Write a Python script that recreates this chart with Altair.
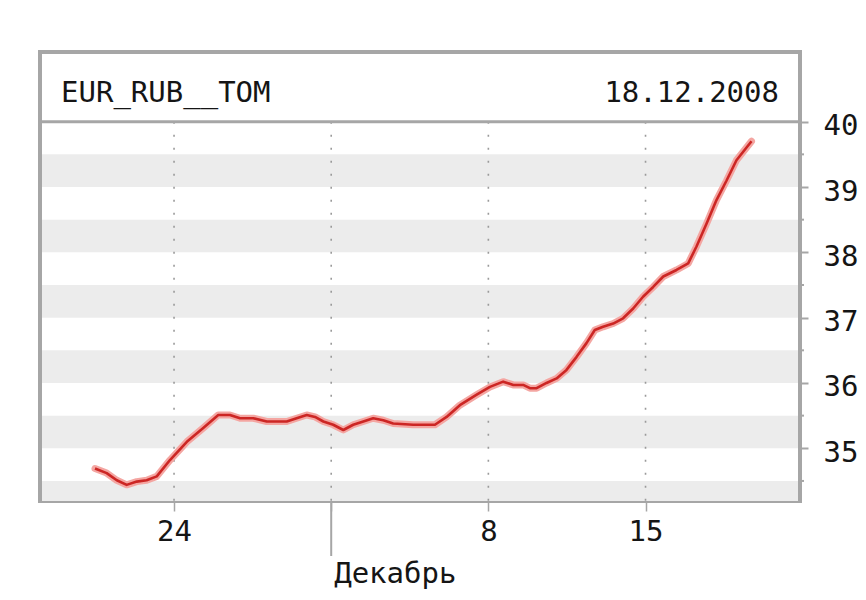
import altair as alt
import pandas as pd

# ---- data (x = day number: November days as-is, December days = 30 + day) ----
days = [20.48, 21.00, 21.45, 21.89, 22.34, 22.78, 23.23, 23.82, 24.57, 25.30,
        25.97, 26.49, 26.94, 27.53, 28.13, 29.02, 29.46, 29.91, 30.28, 30.65,
        31.09, 31.54, 31.98, 32.43, 32.87, 33.32, 33.76, 34.65, 35.62, 36.14,
        36.73, 37.48, 38.07, 38.66, 39.11, 39.55, 39.85, 40.15, 40.59, 41.04,
        41.48, 41.93, 42.37, 42.74, 43.11, 43.56, 44.00, 44.45, 44.89, 45.34,
        45.79, 46.38, 46.90, 47.27, 47.72, 48.16, 48.61, 49.05, 49.72]
rate = [34.69, 34.62, 34.51, 34.44, 34.49, 34.51, 34.57, 34.82, 35.10, 35.31,
        35.51, 35.51, 35.46, 35.46, 35.41, 35.41, 35.46, 35.51, 35.48, 35.41,
        35.36, 35.28, 35.36, 35.41, 35.46, 35.43, 35.38, 35.36, 35.36, 35.48,
        35.66, 35.82, 35.94, 36.02, 35.97, 35.97, 35.92, 35.92, 36.00, 36.07,
        36.20, 36.40, 36.61, 36.81, 36.86, 36.91, 36.99, 37.14, 37.32, 37.47,
        37.63, 37.73, 37.83, 38.09, 38.44, 38.80, 39.10, 39.41, 39.70]

band_lo = [34, 35, 36, 37, 38, 39]
band_hi = [34.5, 35.5, 36.5, 37.5, 38.5, 39.5]
y_ticks = [35, 36, 37, 38, 39, 40]
y_minor = [34.5, 35.5, 36.5, 37.5, 38.5, 39.5]
x_ticks = [24, 31, 38, 45]
x_tick_labels = ["24", "", "8", "15"]
month_day = [31]
month_label = ["Декабрь"]
title_left = ["EUR_RUB__TOM"]
title_right = ["18.12.2008"]
header_top = 40

X_DOMAIN = [18.03, 51.88]
Y_DOMAIN = [34.193, 41.067]

W, H = 760, 449
FONT = "DejaVu Sans Mono"
FS = 29
TXT = "#151515"
FRAME = "#a6a6a6"

xs = alt.Scale(domain=X_DOMAIN, nice=False, zero=False)
ys = alt.Scale(domain=Y_DOMAIN, nice=False, zero=False)

label_expr = ""
for v, l in zip(x_ticks, x_tick_labels):
    label_expr += f"datum.value == {v} ? '{l}' : "
label_expr += "''"

x_axis = alt.Axis(values=x_ticks, labelExpr=label_expr, title=None, grid=False,
                  domain=False, tickColor=FRAME, tickWidth=1.5, tickSize=10,
                  labelFont=FONT, labelFontSize=FS, labelColor=TXT,
                  labelPadding=6)
y_axis = alt.Axis(values=y_ticks, orient="right", title=None, grid=False,
                  domain=False, tickColor=FRAME, tickWidth=2, tickSize=8,
                  labelFont=FONT, labelFontSize=FS, labelColor=TXT,
                  labelPadding=15, labelOffset=4)

line_df = pd.DataFrame({"d": days, "r": rate})
band_df = pd.DataFrame({"lo": band_lo, "hi": band_hi})
tick_df = pd.DataFrame({"d": x_ticks})
minor_df = pd.DataFrame({"v": y_minor})

bands = alt.Chart(band_df).mark_rect(color="#ececec", clip=True).encode(
    x=alt.value(2), x2=alt.value(W - 2),
    y=alt.Y("lo:Q", scale=ys, axis=y_axis), y2="hi:Q")

grid = alt.Chart(tick_df).mark_rule(color="#9a9a9a", strokeWidth=1.6,
                                    strokeDash=[2, 11]).encode(
    x=alt.X("d:Q", scale=xs, axis=x_axis),
    y=alt.Y(datum=header_top, type="quantitative", scale=ys, axis=y_axis),
    y2=alt.value(H))

dec_ext = alt.Chart(pd.DataFrame({"d": month_day})).mark_rule(
    color=FRAME, strokeWidth=2).encode(
    x=alt.X("d:Q", scale=xs, axis=x_axis),
    y=alt.value(H), y2=alt.value(H + 55))

minor = alt.Chart(minor_df).mark_rule(color=FRAME, strokeWidth=2).encode(
    x=alt.value(W), x2=alt.value(W + 4),
    y=alt.Y("v:Q", scale=ys, axis=y_axis))

divider = alt.Chart(pd.DataFrame({"v": [header_top]})).mark_rule(
    color=FRAME, strokeWidth=3).encode(
    x=alt.value(0), x2=alt.value(W),
    y=alt.Y("v:Q", scale=ys, axis=y_axis))

halo = alt.Chart(line_df).mark_line(color="#f4a6a2", strokeWidth=7,
                                    strokeJoin="round", strokeCap="round").encode(
    x=alt.X("d:Q", scale=xs, axis=x_axis),
    y=alt.Y("r:Q", scale=ys, axis=y_axis))

line = alt.Chart(line_df).mark_line(color="#cc2624", strokeWidth=2.6,
                                    strokeJoin="round").encode(
    x=alt.X("d:Q", scale=xs, axis=x_axis),
    y=alt.Y("r:Q", scale=ys, axis=y_axis))

t_left = alt.Chart(pd.DataFrame({"t": title_left})).mark_text(
    font=FONT, fontSize=FS, color=TXT, align="left", baseline="middle").encode(
    x=alt.value(21), y=alt.value(41), text="t:N")

t_right = alt.Chart(pd.DataFrame({"t": title_right})).mark_text(
    font=FONT, fontSize=FS, color=TXT, align="right", baseline="middle").encode(
    x=alt.value(739), y=alt.value(41), text="t:N")

month = alt.Chart(pd.DataFrame({"d": month_day, "t": month_label})).mark_text(
    font=FONT, fontSize=FS, color=TXT, align="left", baseline="middle",
    dx=3).encode(
    x=alt.X("d:Q", scale=xs, axis=x_axis), y=alt.value(H + 73), text="t:N")

chart = alt.layer(bands, grid, dec_ext, minor, divider, halo, line,
                  t_left, t_right, month).properties(
    width=W, height=H,
    autosize=alt.AutoSizeParams(type="none"),
    padding={"left": 32, "top": 44, "right": 58, "bottom": 90},
    background="white",
).configure_view(stroke=FRAME, strokeWidth=4)

chart.save("out.html", embed_options={"renderer": "svg", "actions": False})
